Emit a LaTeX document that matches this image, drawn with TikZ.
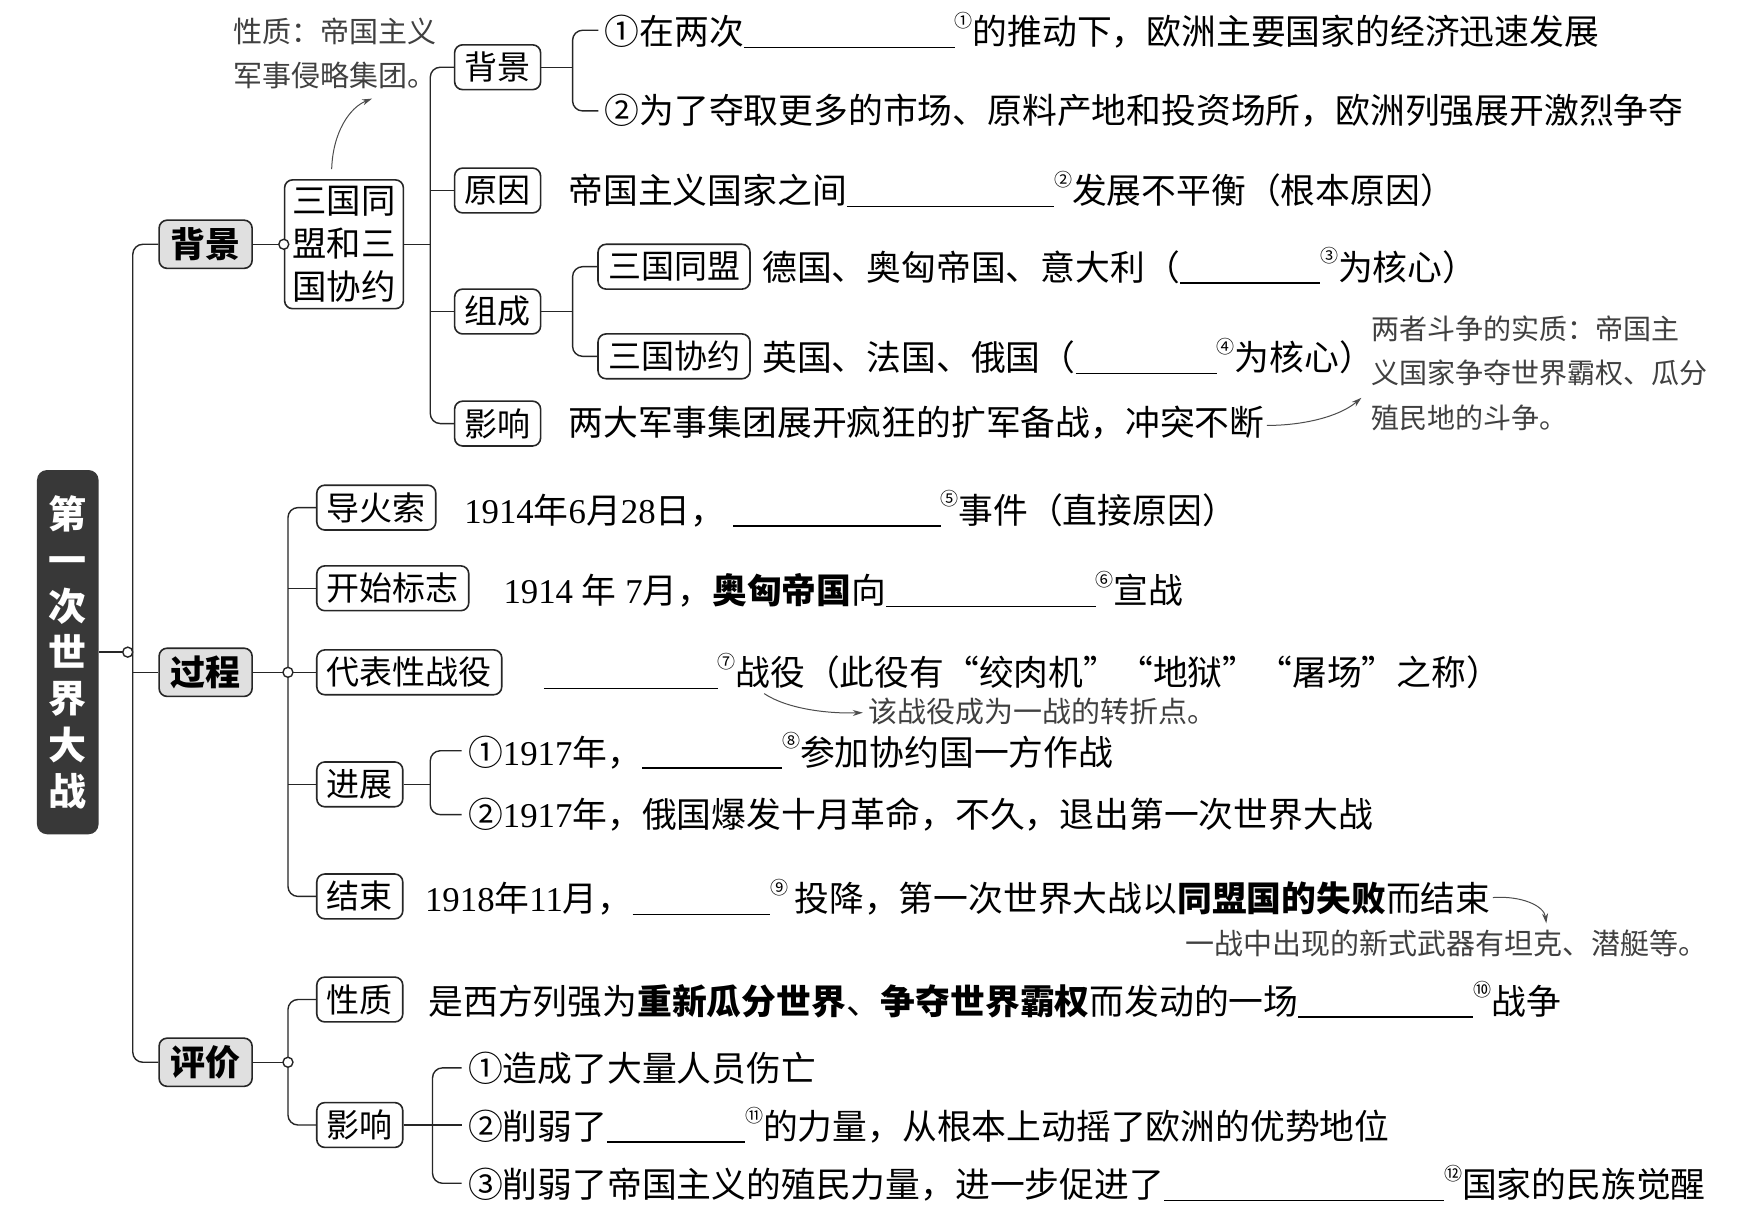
\documentclass[tikz,border=0pt]{standalone}
\usepackage{fontspec}
\setmainfont{Noto Sans CJK SC}
\newfontfamily\lat{Liberation Serif}
\usetikzlibrary{arrows.meta}
\newdimen\uu \uu=0.56025pt
\newcommand\LT[1]{{\lat #1}}
\newcommand\blank[1]{\rule[-0.1em]{#1\uu}{0.75pt}}
\newcommand\sn[1]{\raisebox{0.5em}{\fontsize{9pt}{9pt}\selectfont #1}}
\newcommand\fsmain{\fontsize{17.4pt}{21pt}\selectfont}
\newcommand\fsbox{\fontsize{16.5pt}{20pt}\selectfont}
\newcommand\fsone{\fontsize{17.5pt}{20pt}\selectfont\bfseries}
\newcommand\fsnote{\fontsize{14.5pt}{22pt}\selectfont}
\tikzset{
  conn/.style={line width=0.7pt, draw=black!85, rounded corners=5pt},
  titlebox/.style={fill=black!78, rounded corners=5pt, text=white, font=\fontsize{19pt}{23.1pt}\selectfont\bfseries, align=center, minimum width=30.8pt, minimum height=182.1pt, inner sep=0pt},
  onebox/.style={draw=black!85, line width=0.8pt, fill=black!12, rounded corners=4pt, font=\fsone, minimum width=46.5pt, minimum height=24.1pt, inner sep=0pt},
  labbox/.style={draw=black!85, line width=0.8pt, fill=white, rounded corners=4pt, font=\fsbox, inner xsep=5pt, inner ysep=0pt, minimum height=22.4pt},
  row/.style={anchor=west, inner xsep=3pt, inner ysep=0pt, font=\fsmain},
  txt/.style={anchor=west, inner sep=0pt, font=\fsmain},
  note/.style={anchor=west, inner sep=0pt, font=\fsnote, text=black!75, align=left},
  notearrow/.style={line width=0.5pt, draw=black!70, -{Stealth[length=5pt,width=3pt]}},
  dot/.style={circle, draw=black!85, line width=0.7pt, fill=white, inner sep=0pt, minimum size=5pt},
}
\begin{document}
\begin{tikzpicture}[x=0.56025pt, y=-0.56025pt]
\fill[white] (0,0) rectangle (1560,1080);
\useasboundingbox (0,0) rectangle (1560,1080);

% title and level 1
\node[titlebox] (title) at (60.5,582) {第\\一\\次\\世\\界\\大\\战};
\node[onebox] (bg1) at (183.5,218) {背景};
\node[onebox] (gc1) at (183.5,600) {过程};
\node[onebox] (pj1) at (183.5,948) {评价};

% background branch
\node[labbox, font=\fontsize{17.2pt}{21.3pt}\selectfont, align=center, minimum width=59.4pt, minimum height=64.4pt, inner xsep=2pt] (sg) at (307,218) {三国同\\盟和三\\国协约};
\node[labbox, anchor=west] (bgS) at (405,60) {背景};
\node[labbox, anchor=west] (yyS) at (405,170) {原因};
\node[labbox, anchor=west] (zcS) at (405,278) {组成};
\node[labbox, anchor=west] (yxS) at (405,378) {影响};

\node[row] (t1) at (534,27) {①在两次\blank{188}\sn{①}的推动下，欧洲主要国家的经济迅速发展};
\node[row] (t2) at (534,99) {②为了夺取更多的市场、原料产地和投资场所，欧洲列强展开激烈争夺};
\node[txt] (yyT) at (507,169) {帝国主义国家之间\blank{185}\sn{②}发展不平衡（根本原因）};
\node[labbox, anchor=west] (tmB) at (533,238) {三国同盟};
\node[txt] (tmT) at (680,237) {德国、奥匈帝国、意大利（\blank{125}\sn{③}为核心）};
\node[labbox, anchor=west] (xyB) at (533,318) {三国协约};
\node[txt] (xyT) at (680,318) {英国、法国、俄国（\blank{126}\sn{④}为核心）};
\node[txt] (yxT) at (507,377) {两大军事集团展开疯狂的扩军备战，冲突不断};

% process branch
\node[labbox, anchor=west] (dhB) at (282,453) {导火索};
\node[labbox, anchor=west] (ksB) at (282,525) {开始标志};
\node[labbox, anchor=west] (dbB) at (282,600) {代表性战役};
\node[labbox, anchor=west] (jzB) at (282,700) {进展};
\node[labbox, anchor=west] (jsB) at (282,800) {结束};

\node[txt] (dhT) at (414,454) {\LT{1914}年\LT{6}月\LT{28}日，\hspace{4pt}\blank{185}\sn{⑤}事件（直接原因）};
\node[txt] (ksT) at (449,526) {\LT{1914~}年\LT{~7}月，\textbf{奥匈帝国}向\blank{187}\sn{⑥}宣战};
\node[txt] (dbT) at (485,599) {\blank{155}\sn{⑦}战役（此役有“绞肉机”“地狱”“屠场”之称）};
\node[row] (jz1) at (412,670) {①\LT{1917}年，\blank{125}\sn{⑧}参加协约国一方作战};
\node[row] (jz2) at (412,727) {②\LT{1917}年，俄国爆发十月革命，不久，退出第一次世界大战};
\node[txt] (jsT) at (379,801) {\LT{1918}年\LT{11}月，\blank{123}\sn{⑨}\hspace{3pt}投降，第一次世界大战以\textbf{同盟国的失败}而结束};

% evaluation branch
\node[labbox, anchor=west] (xzB) at (282,892) {性质};
\node[labbox, anchor=west] (ypB) at (282,1004) {影响};
\node[txt] (xzT) at (382,892) {是西方列强为\textbf{重新瓜分世界}、\textbf{争夺世界霸权}而发动的一场\blank{156}\sn{⑩}战争};
\node[row] (p1) at (412,953) {①造成了大量人员伤亡};
\node[row] (p2) at (412,1004) {②削弱了\blank{123}\sn{⑪}的力量，从根本上动摇了欧洲的优势地位};
\node[row] (p3) at (412,1056) {③削弱了帝国主义的殖民力量，进一步促进了\blank{250}\sn{⑫}国家的民族觉醒};

% notes
\node[note] (n1) at (208,48) {性质：帝国主义\\军事侵略集团。};
\node[note, font=\fontsize{14pt}{22.4pt}\selectfont] (n2) at (1224,333) {两者斗争的实质：帝国主\\义国家争夺世界霸权、瓜分\\殖民地的斗争。};
\node[note] (n3) at (775,635) {该战役成为一战的转折点。};
\node[note] (n4) at (1058,842) {一战中出现的新式武器有坦克、潜艇等。};

% connectors
\coordinate (j0) at (114,582);
\coordinate (tk) at (118.5,600);
\draw[conn] (title.east) -- (j0);
\draw[conn] (bg1.west) -| (tk) |- (pj1.west);
\draw[conn] (tk) -- (gc1.west);

\draw[conn] (bg1.east) -- (sg.west);
\coordinate (v1) at (384,218);
\draw[conn] (sg.east) -- (v1);
\draw[conn] (bgS.west) -| (v1) |- (yxS.west);
\draw[conn] (yyS.west) -- (yyS.west -| v1);
\draw[conn] (zcS.west) -- (zcS.west -| v1);

\coordinate (v2) at (511,60);
\draw[conn] (bgS.east) -- (v2);
\draw[conn] (t1.west) -| (v2) |- (t2.west);
\coordinate (v3) at (511,278);
\draw[conn] (zcS.east) -- (v3);
\draw[conn] (tmB.west) -| (v3) |- (xyB.west);

\coordinate (j2) at (257,600);
\draw[conn] (gc1.east) -- (j2);
\draw[conn] (dhB.west) -| (j2) |- (jsB.west);
\draw[conn] (ksB.west) -- (ksB.west -| j2);
\draw[conn] (dbB.west) -- (j2);
\draw[conn] (jzB.west) -- (jzB.west -| j2);
\coordinate (v4) at (384,700);
\draw[conn] (jzB.east) -- (v4);
\draw[conn] (jz1.west) -| (v4) |- (jz2.west);

\coordinate (j3) at (257,948);
\draw[conn] (pj1.east) -- (j3);
\draw[conn] (xzB.west) -| (j3) |- (ypB.west);
\coordinate (v5) at (386,1004);
\draw[conn] (ypB.east) -- (p2.west);
\draw[conn] (p1.west) -| (v5) |- (p3.west);

\node[dot] (d0) at (j0) {};
\node[dot] (d1) at (sg.west) {};
\node[dot] (d2) at (j2) {};
\node[dot] (d3) at (j3) {};

% note arrows
\coordinate (a1s) at (296,151); \coordinate (a1e) at (332,88);
\draw[notearrow] (a1s) .. controls (297,118) and (312,96) .. (a1e);
\coordinate (a2e) at (1215,355);
\draw[notearrow] ([xshift=1pt,yshift=-1.5pt]yxT.east) .. controls +(18pt,0pt) and (1195,372) .. (a2e);
\coordinate (a3s) at (682,619); \coordinate (a3e) at (770,636);
\draw[notearrow] (a3s) .. controls (703,633) and (740,637) .. (a3e);
\coordinate (a4e) at (1380,824);
\draw[notearrow] ([xshift=1pt]jsT.east) .. controls +(14pt,1pt) and (1378,808) .. (a4e);
\end{tikzpicture}
\end{document}
